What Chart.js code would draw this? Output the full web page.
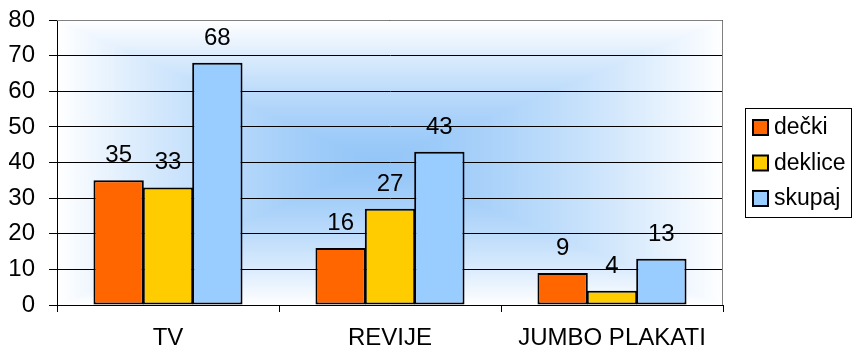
<!DOCTYPE html>
<html>
<head>
<meta charset="utf-8">
<script src="https://cdn.jsdelivr.net/npm/chart.js"></script>
<style>
  html, body { margin: 0; padding: 0; background: #fff; }
  #wrap { width: 853px; height: 351px; position: relative; }
</style>
</head>
<body>
<div id="wrap"><canvas id="myChart"></canvas></div>
<script>
// Data
const categories = ['TV', 'REVIJE', 'JUMBO PLAKATI'];
const seriesNames = ['dečki', 'deklice', 'skupaj'];
const decki = [35, 16, 9];
const deklice = [33, 27, 4];
const skupaj = [68, 43, 13];
const yTicks = [0, 10, 20, 30, 40, 50, 60, 70, 80];

const colors = ['#FF6600', '#FFCC00', '#99CCFF'];
const FONT = 'Arial, "Liberation Sans", sans-serif';
const FS = 24;

// gradient fill of the plot area (rectangular, from centre)
const bgPlugin = {
  id: 'bg',
  beforeDraw(chart) {
    const a = chart.chartArea, ctx = chart.ctx;
    const w = Math.round(a.right - a.left), h = Math.round(a.bottom - a.top);
    const img = ctx.createImageData(w, h);
    const cx = w * 0.48, cy = h * 0.5;
    for (let y = 0; y < h; y++) {
      for (let x = 0; x < w; x++) {
        const dx = x < cx ? (cx - x) / cx : (x - cx) / (w - cx);
        let t = Math.max(dx, Math.abs(y - cy) / cy);
        t = Math.pow(Math.min(1, t), 1.4);
        const i = (y * w + x) * 4;
        img.data[i] = 148 + (255 - 148) * t;
        img.data[i + 1] = 198 + (255 - 198) * t;
        img.data[i + 2] = 248 + (255 - 248) * t;
        img.data[i + 3] = 255;
      }
    }
    ctx.putImageData(img, Math.round(a.left), Math.round(a.top));
  }
};

// value labels, plot border and legend box
const extrasPlugin = {
  id: 'extras',
  afterDraw(chart) {
    const ctx = chart.ctx, a = chart.chartArea;
    ctx.save();
    // gray frame top/right
    ctx.strokeStyle = '#808080';
    ctx.lineWidth = 1;
    ctx.beginPath();
    ctx.moveTo(a.left, Math.round(a.top) + 0.5);
    ctx.lineTo(Math.round(a.right) - 0.5, Math.round(a.top) + 0.5);
    ctx.lineTo(Math.round(a.right) - 0.5, a.bottom);
    ctx.stroke();

    // value labels
    ctx.fillStyle = '#000';
    ctx.font = FS + 'px ' + FONT;
    ctx.textAlign = 'center';
    ctx.textBaseline = 'alphabetic';
    chart.data.datasets.forEach((ds, di) => {
      chart.getDatasetMeta(di).data.forEach((bar, i) => {
        ctx.fillText(String(ds.data[i]), bar.x, bar.y - 18);
      });
    });

    // legend
    const lx = 745, ly = 108, lw = 107, lh = 110;
    ctx.fillStyle = '#fff';
    ctx.fillRect(lx, ly, lw, lh);
    ctx.lineWidth = 1;
    ctx.strokeStyle = '#000';
    ctx.strokeRect(lx + 0.5, ly + 0.5, lw - 1, lh - 1);
    ctx.textAlign = 'left';
    ctx.textBaseline = 'middle';
    ctx.font = '23px ' + FONT;
    chart.data.datasets.forEach((ds, di) => {
      const yc = ly + 19 + di * 35.5;
      ctx.fillStyle = ds.backgroundColor;
      ctx.fillRect(lx + 8, yc - 7, 15, 15);
      ctx.lineWidth = 2;
      ctx.strokeStyle = '#000';
      ctx.strokeRect(lx + 8, yc - 7, 15, 15);
      ctx.fillStyle = '#000';
      ctx.fillText(ds.label, lx + 29, yc + 1);
    });
    ctx.restore();
  }
};

const data = {
  labels: categories,
  datasets: [decki, deklice, skupaj].map((vals, i) => ({
    label: seriesNames[i],
    data: vals,
    backgroundColor: colors[i],
    borderColor: '#000',
    borderWidth: 2,
    borderSkipped: false,
    categoryPercentage: 0.667,
    barPercentage: 1.02
  }))
};

const config = {
  type: 'bar',
  data: data,
  options: {
    responsive: true,
    maintainAspectRatio: false,
    animation: false,
    layout: { padding: { left: 9, right: 130, top: 20, bottom: 0 } },
    plugins: {
      legend: { display: false },
      tooltip: { enabled: false }
    },
    scales: {
      x: {
        offset: true,
        afterFit(scale) { scale.height = 46; scale.paddingLeft = 0; scale.paddingRight = 0; },
        grid: {
          offset: true,
          drawOnChartArea: false,
          drawTicks: true,
          tickLength: 7,
          color: '#000'
        },
        border: { color: '#000', width: 1 },
        ticks: { color: '#000', font: { family: FONT, size: FS }, padding: 12 }
      },
      y: {
        min: 0,
        max: 80,
        afterFit(scale) { scale.width = 48; scale.paddingTop = 0; scale.paddingBottom = 0; },
        afterBuildTicks(axis) { axis.ticks = yTicks.map(v => ({ value: v })); },
        grid: { color: '#000', tickLength: 8, lineWidth: 1 },
        border: { color: '#000', width: 1 },
        ticks: { color: '#000', font: { family: FONT, size: FS }, padding: 14 }
      }
    }
  },
  plugins: [bgPlugin, extrasPlugin]
};

var myChart = new Chart(document.getElementById('myChart'), config);
</script>
</body>
</html>
